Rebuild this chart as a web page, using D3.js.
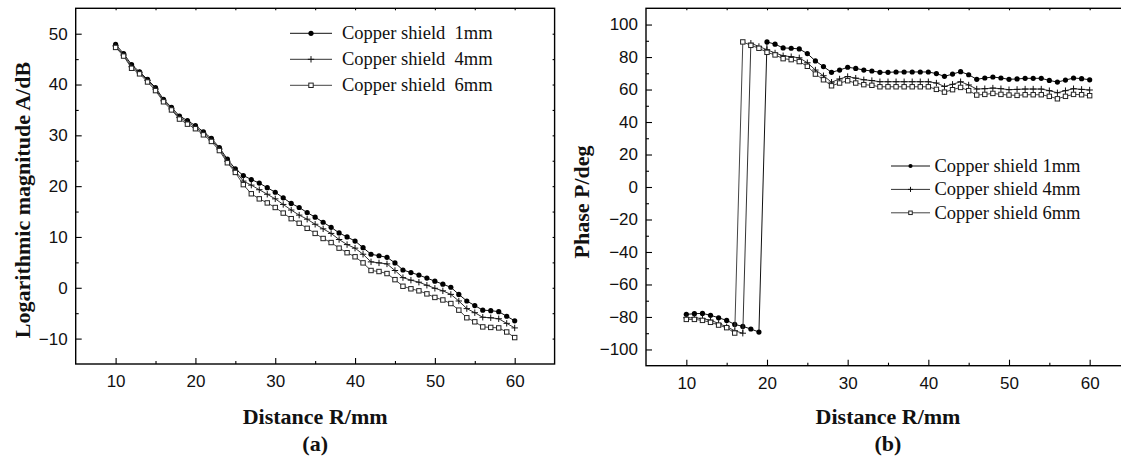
<!DOCTYPE html>
<html><head><meta charset="utf-8">
<script src="https://cdn.jsdelivr.net/npm/d3@7"></script>
<style>
body{margin:0;background:#fff;}
svg{display:block;}
.tick text{font-family:"Liberation Sans",Arial,sans-serif;font-size:17px;fill:#111;}
.title{font-family:"Liberation Serif","Times New Roman",serif;font-weight:bold;font-size:22px;fill:#111;}
.leg{font-family:"Liberation Serif","Times New Roman",serif;font-size:18.5px;fill:#111;white-space:pre;}
</style></head>
<body>
<svg id="c" width="1121" height="459"></svg>
<script>
// ---- data ----
const distance = d3.range(10, 61); // 10..60 mm
const seriesNamesA = ["Copper shield  1mm", "Copper shield  4mm", "Copper shield  6mm"];
const seriesNamesB = ["Copper shield 1mm", "Copper shield 4mm", "Copper shield 6mm"];
const xTicks = [10, 20, 30, 40, 50, 60];
const yTicksA = [-10, 0, 10, 20, 30, 40, 50];
const yTicksB = [-100, -80, -60, -40, -20, 0, 20, 40, 60, 80, 100];

const magnitude1mm = [47.9,46.1,43.9,42.5,41.0,39.4,37.1,35.5,33.8,32.9,31.9,30.7,29.4,27.6,25.3,23.4,
  22.1,21.3,20.6,19.7,18.8,17.7,16.6,15.8,14.8,13.9,12.9,11.9,10.8,10.0,9.2,7.9,6.6,6.3,6.0,4.9,
  3.5,3.0,2.5,1.9,1.3,0.7,0.1,-1.3,-2.6,-3.5,-4.4,-4.5,-4.7,-5.6,-6.5];
const magnitude4mm = [47.6,45.8,43.5,42.3,40.8,39.1,36.8,35.2,33.5,32.6,31.6,30.4,29.1,27.3,24.9,23.0,
  21.0,20.2,19.3,18.4,17.5,16.4,15.3,14.3,13.5,12.5,11.6,10.7,9.5,8.5,7.8,6.6,5.1,4.9,4.7,3.4,
  2.0,1.5,1.1,0.5,-0.1,-0.6,-1.3,-2.6,-4.1,-4.9,-5.8,-5.9,-6.1,-7.0,-7.9];
const magnitude6mm = [47.3,45.6,43.2,42.1,40.5,38.8,36.6,35.0,33.2,32.2,31.3,30.1,28.8,27.0,24.6,22.7,
  20.3,18.5,17.5,16.7,15.8,14.7,13.6,12.7,11.7,10.7,9.7,8.9,7.8,6.9,6.1,4.9,3.4,3.2,2.8,1.6,
  0.3,-0.2,-0.6,-1.2,-1.9,-2.4,-3.1,-4.4,-5.9,-6.7,-7.7,-7.8,-7.9,-8.7,-9.8];

const phase1mm = [-78.4,-78.0,-77.8,-79.0,-80.5,-82.1,-84.6,-85.8,-87.4,-89.3,89.3,87.9,85.6,85.4,85.0,82.1,
  77.6,74.1,70.6,72.0,73.7,73.0,72.0,71.4,70.6,70.6,70.8,70.8,70.8,70.8,70.8,69.8,68.1,69.5,71.0,69.1,
  66.3,67.1,67.7,67.1,66.3,66.5,66.9,66.9,66.9,65.6,64.6,65.8,67.1,66.7,66.0];
const phase4mm = [-80.5,-80.5,-81.0,-82.0,-84.0,-86.0,-88.5,-90.0,88.5,86.5,84.5,82.5,80.8,80.2,79.5,76.5,
  72.0,68.5,64.5,66.5,68.0,67.0,66.0,65.5,64.8,64.8,64.8,64.8,64.8,64.8,64.8,64.0,61.9,63.2,64.8,62.8,
  60.3,60.5,60.9,60.5,59.9,60.1,60.3,60.3,60.3,59.3,58.0,59.3,60.5,60.1,59.7];
const phase6mm = [-81.5,-81.5,-82.1,-83.3,-85.0,-86.6,-89.9,89.3,87.2,85.4,82.9,81.3,79.0,78.4,77.2,74.3,
  69.5,66.0,62.3,64.0,65.4,64.0,63.0,62.6,61.7,61.7,61.7,61.7,61.7,61.7,61.7,60.1,58.4,59.9,61.3,59.3,
  56.6,57.0,57.6,57.0,56.6,56.4,56.8,56.8,56.8,55.8,54.3,55.8,57.0,56.8,56.2];

const markerTypes = ["circle", "plus", "square"];
const lineColors = ["#111", "#333", "#444"];

const svg = d3.select("#c");

function drawMarker(g, type, x, y, big) {
  const s = big ? 1 : 0.8;
  if (type === "circle") {
    g.append("circle").attr("cx", x).attr("cy", y).attr("r", 2.6 * s).attr("fill", "#000");
  } else if (type === "plus") {
    const h = 3.2 * s;
    g.append("path").attr("d", `M${x - h},${y}H${x + h}M${x},${y - h}V${y + h}`)
      .attr("stroke", "#111").attr("stroke-width", 1).attr("fill", "none");
  } else {
    const h = 2.2 * s;
    g.append("rect").attr("x", x - h).attr("y", y - h).attr("width", 2 * h).attr("height", 2 * h)
      .attr("fill", "#fff").attr("stroke", "#222").attr("stroke-width", 1);
  }
}

function panel(opts) {
  const { x, y, xMinor, yMajor, yMinor, series, names, legend, yTitle, yTitlePos, xTitleY, tag } = opts;
  const g = svg.append("g");
  const [x0, x1] = x.range();
  const [y0, y1] = y.range(); // bottom, top

  // frame
  g.append("rect").attr("x", x0).attr("y", y1).attr("width", x1 - x0).attr("height", y0 - y1)
    .attr("fill", "none").attr("stroke", "#000").attr("stroke-width", 1.4);

  // bottom axis
  const bx = g.append("g").attr("transform", `translate(0,${y0})`)
    .call(d3.axisBottom(x).tickValues(xTicks).tickSize(-6).tickSizeOuter(0).tickPadding(11).tickFormat(d3.format("d")));
  const bxm = g.append("g").attr("transform", `translate(0,${y0})`)
    .call(d3.axisBottom(x).tickValues(xMinor).tickSize(-3).tickSizeOuter(0).tickFormat(""));
  // top mirror
  const tx = g.append("g").attr("transform", `translate(0,${y1})`)
    .call(d3.axisTop(x).tickValues(xTicks.concat(xMinor)).tickSize(-2).tickSizeOuter(0).tickFormat(""));
  // left axis
  const ly = g.append("g").attr("transform", `translate(${x0},0)`)
    .call(d3.axisLeft(y).tickValues(yMajor).tickSize(-6).tickSizeOuter(0).tickPadding(8));
  const lym = g.append("g").attr("transform", `translate(${x0},0)`)
    .call(d3.axisLeft(y).tickValues(yMinor).tickSize(-3).tickSizeOuter(0).tickFormat(""));
  const ry = g.append("g").attr("transform", `translate(${x1},0)`)
    .call(d3.axisRight(y).tickValues(yMajor.concat(yMinor)).tickSize(-2).tickSizeOuter(0).tickFormat(""));
  [bx, bxm, tx, ly, lym, ry].forEach(a => {
    a.select(".domain").remove();
    a.selectAll("line").attr("stroke", "#000").attr("stroke-width", 1.1);
  });

  // lines + markers
  series.forEach((vals, i) => {
    const pts = distance.map((d, k) => [d, vals[k]]);
    g.append("path").datum(pts)
      .attr("d", d3.line().x(d => x(d[0])).y(d => y(d[1])))
      .attr("fill", "none").attr("stroke", lineColors[i]).attr("stroke-width", 1);
    const mg = g.append("g");
    pts.forEach(p => drawMarker(mg, markerTypes[i], x(p[0]), y(p[1]), true));
  });

  // legend
  names.forEach((n, i) => {
    const ly0 = legend.y + i * legend.dy;
    g.append("line").attr("x1", legend.x).attr("x2", legend.x + legend.len)
      .attr("y1", ly0).attr("y2", ly0).attr("stroke", lineColors[i]).attr("stroke-width", 1);
    drawMarker(g, markerTypes[i], legend.x + legend.len / 2, ly0, legend.big);
    g.append("text").attr("class", "leg").attr("x", legend.tx).attr("y", ly0 + 6).text(n);
  });

  // titles
  g.append("text").attr("class", "title").attr("text-anchor", "middle")
    .attr("transform", `translate(${yTitlePos[0]},${yTitlePos[1]}) rotate(-90)`)
    .attr("dy", "0.35em").text(yTitle);
  g.append("text").attr("class", "title").attr("text-anchor", "middle")
    .attr("x", (x0 + x1) / 2).attr("y", xTitleY).text("Distance R/mm");
  g.append("text").attr("class", "title").attr("text-anchor", "middle")
    .attr("x", (x0 + x1) / 2).attr("y", xTitleY + 27).text(tag);
}

panel({
  x: d3.scaleLinear([5, 65], [75.7, 554.6]),
  y: d3.scaleLinear([-15, 55], [364, 8.3]),
  xMinor: [15, 25, 35, 45, 55],
  yMajor: yTicksA,
  yMinor: [-5, 5, 15, 25, 35, 45],
  series: [magnitude1mm, magnitude4mm, magnitude6mm],
  names: seriesNamesA,
  legend: { x: 290, len: 42, y: 33.3, dy: 26, tx: 342, big: true },
  yTitle: "Logarithmic magnitude A/dB",
  yTitlePos: [22, 200],
  xTitleY: 424,
  tag: "(a)"
});

panel({
  x: d3.scaleLinear([5, 65], [646, 1130]),
  y: d3.scaleLinear([-110, 110], [365.7, 8.3]),
  xMinor: [15, 25, 35, 45, 55],
  yMajor: yTicksB,
  yMinor: [-90, -70, -50, -30, -10, 10, 30, 50, 70, 90],
  series: [phase1mm, phase4mm, phase6mm],
  names: seriesNamesB,
  legend: { x: 891, len: 39, y: 166, dy: 23.4, tx: 934.5, big: false },
  yTitle: "Phase P/deg",
  yTitlePos: [581, 202],
  xTitleY: 424,
  tag: "(b)"
});
</script>
</body></html>
